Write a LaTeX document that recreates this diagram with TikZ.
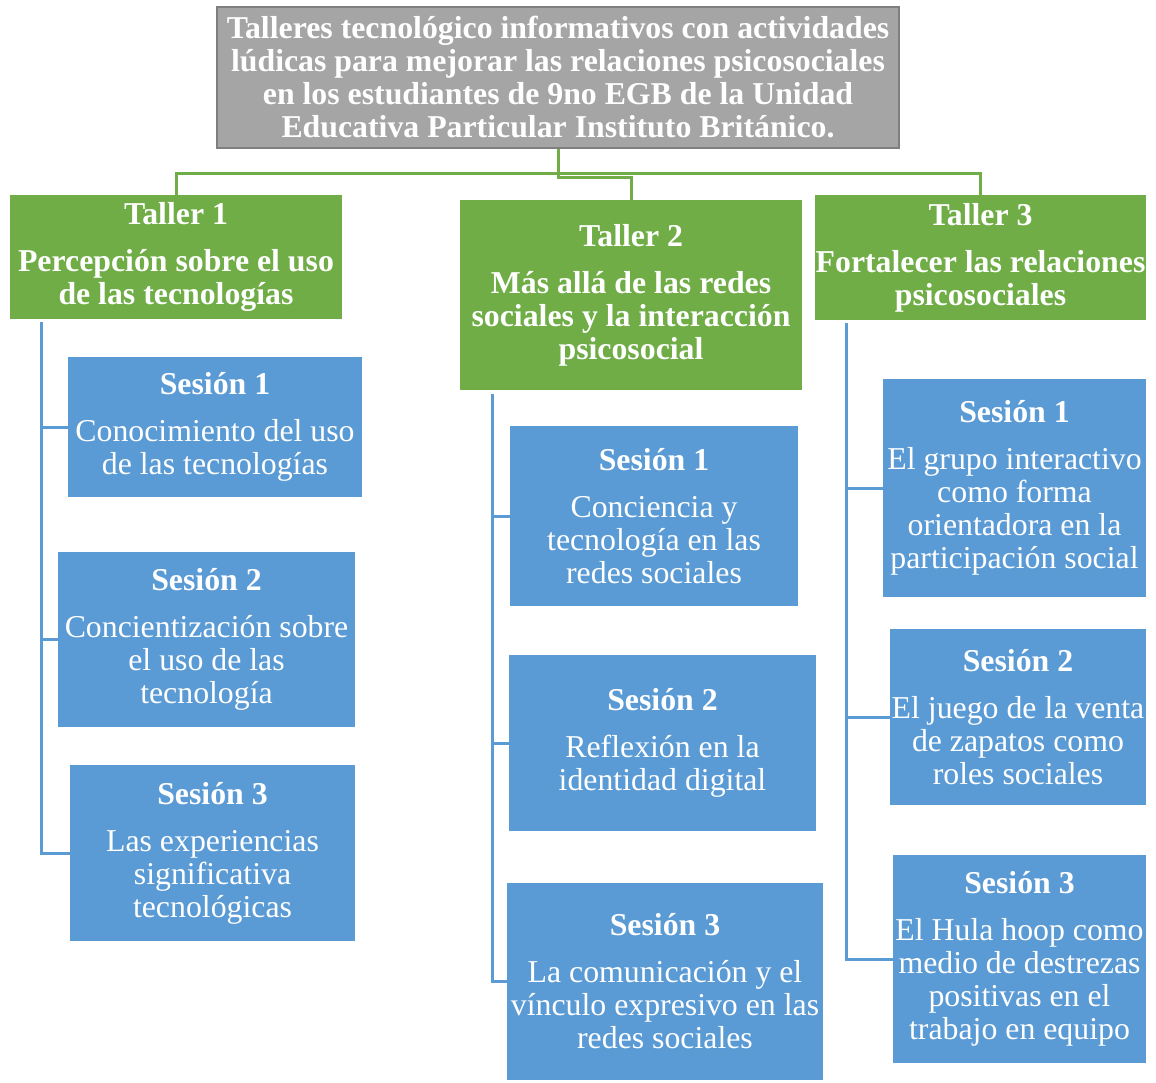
\documentclass[tikz,border=0pt]{standalone}
\usepackage{fontspec}
\setmainfont{Liberation Serif}
\definecolor{verde}{HTML}{70AD47}
\definecolor{azul}{HTML}{5B9BD5}
\definecolor{gris}{HTML}{A5A5A5}
\definecolor{grisborde}{HTML}{7F7F7F}
\tikzset{
  caja/.style={text=white, align=center, inner sep=0pt,
    font=\fontsize{31.8}{33}\selectfont},
  raiz/.style={caja, fill=gris, draw=grisborde, line width=2.5pt, font=\bfseries\fontsize{31.8}{33}\selectfont},
  taller/.style={caja, fill=verde, font=\bfseries\fontsize{31.8}{33}\selectfont},
  sesion/.style={caja, fill=azul},
  enlace/.style={draw=verde, line width=3pt},
  rama/.style={draw=azul, line width=3pt}
}
\newcommand{\titulo}[1]{\textbf{#1}\\[14pt]}
\begin{document}
\begin{tikzpicture}[x=1pt,y=-1pt]
        \useasboundingbox (0,0) rectangle (1156,1082);

        \node[raiz, minimum width=682, minimum height=141] (r) at (558, 77.5)
          {Talleres tecnológico informativos con actividades\\ lúdicas para mejorar las relaciones psicosociales\\ en los estudiantes de 9no EGB de la Unidad\\ Educativa Particular Instituto Británico.};

        \node[taller, minimum width=332, minimum height=124] (t1) at (176, 257)
          {Taller 1\\[14pt] Percepción sobre el uso\\ de las tecnologías};
        \node[taller, minimum width=342, minimum height=190] (t2) at (631, 295)
          {Taller 2\\[14pt] Más allá de las redes\\ sociales y la interacción\\ psicosocial};
        \node[taller, minimum width=331, minimum height=125] (t3) at (980.5, 257.5)
          {Taller 3\\[14pt] Fortalecer las relaciones\\ psicosociales};

        \draw[enlace] (r.south) -- ++(0,24) -| (t1.north);
        \draw[enlace] (r.south) -- ++(0,24) -| (t3.north);
        \draw[enlace] (r.south) -- ++(0,28) -| (t2.north);

        \node[sesion, minimum width=294, minimum height=140] (t1s1) at (215, 427)
          {\titulo{Sesión 1} Conocimiento del uso\\ de las tecnologías};
        \node[sesion, minimum width=297, minimum height=175] (t1s2) at (206.5, 639.5)
          {\titulo{Sesión 2} Concientización sobre\\ el uso de las\\ tecnología};
        \node[sesion, minimum width=285, minimum height=176] (t1s3) at (212.5, 853)
          {\titulo{Sesión 3} Las experiencias\\ significativa\\ tecnológicas};

        \node[sesion, minimum width=288, minimum height=180] (t2s1) at (654, 516)
          {\titulo{Sesión 1} Conciencia y\\ tecnología en las\\ redes sociales};
        \node[sesion, minimum width=307, minimum height=176] (t2s2) at (662.5, 743)
          {\titulo{Sesión 2} Reflexión en la\\ identidad digital};
        \node[sesion, minimum width=316, minimum height=197] (t2s3) at (665, 981.5)
          {\titulo{Sesión 3} La comunicación y el\\ vínculo expresivo en las\\ redes sociales};

        \node[sesion, minimum width=263, minimum height=218] (t3s1) at (1014.5, 488)
          {\titulo{Sesión 1} El grupo interactivo\\ como forma\\ orientadora en la\\ participación social};
        \node[sesion, minimum width=256, minimum height=176] (t3s2) at (1018, 717)
          {\titulo{Sesión 2} El juego de la venta\\ de zapatos como\\ roles sociales};
        \node[sesion, minimum width=253, minimum height=208] (t3s3) at (1019.5, 959)
          {\titulo{Sesión 3} El Hula hoop como\\ medio de destrezas\\ positivas en el\\ trabajo en equipo};

        \draw[rama] (t1.south west) ++(32,3) |- (t1s1.west);
        \draw[rama] (t1.south west) ++(32,3) |- (t1s2.west);
        \draw[rama] (t1.south west) ++(32,3) |- (t1s3.west);
        \draw[rama] (t2.south west) ++(33,4) |- (t2s1.west);
        \draw[rama] (t2.south west) ++(33,4) |- (t2s2.west);
        \draw[rama] (t2.south west) ++(33,4) |- (t2s3.west);
        \draw[rama] (t3.south west) ++(32,3) |- (t3s1.west);
        \draw[rama] (t3.south west) ++(32,3) |- (t3s2.west);
        \draw[rama] (t3.south west) ++(32,3) |- (t3s3.west);
\end{tikzpicture}
\end{document}
